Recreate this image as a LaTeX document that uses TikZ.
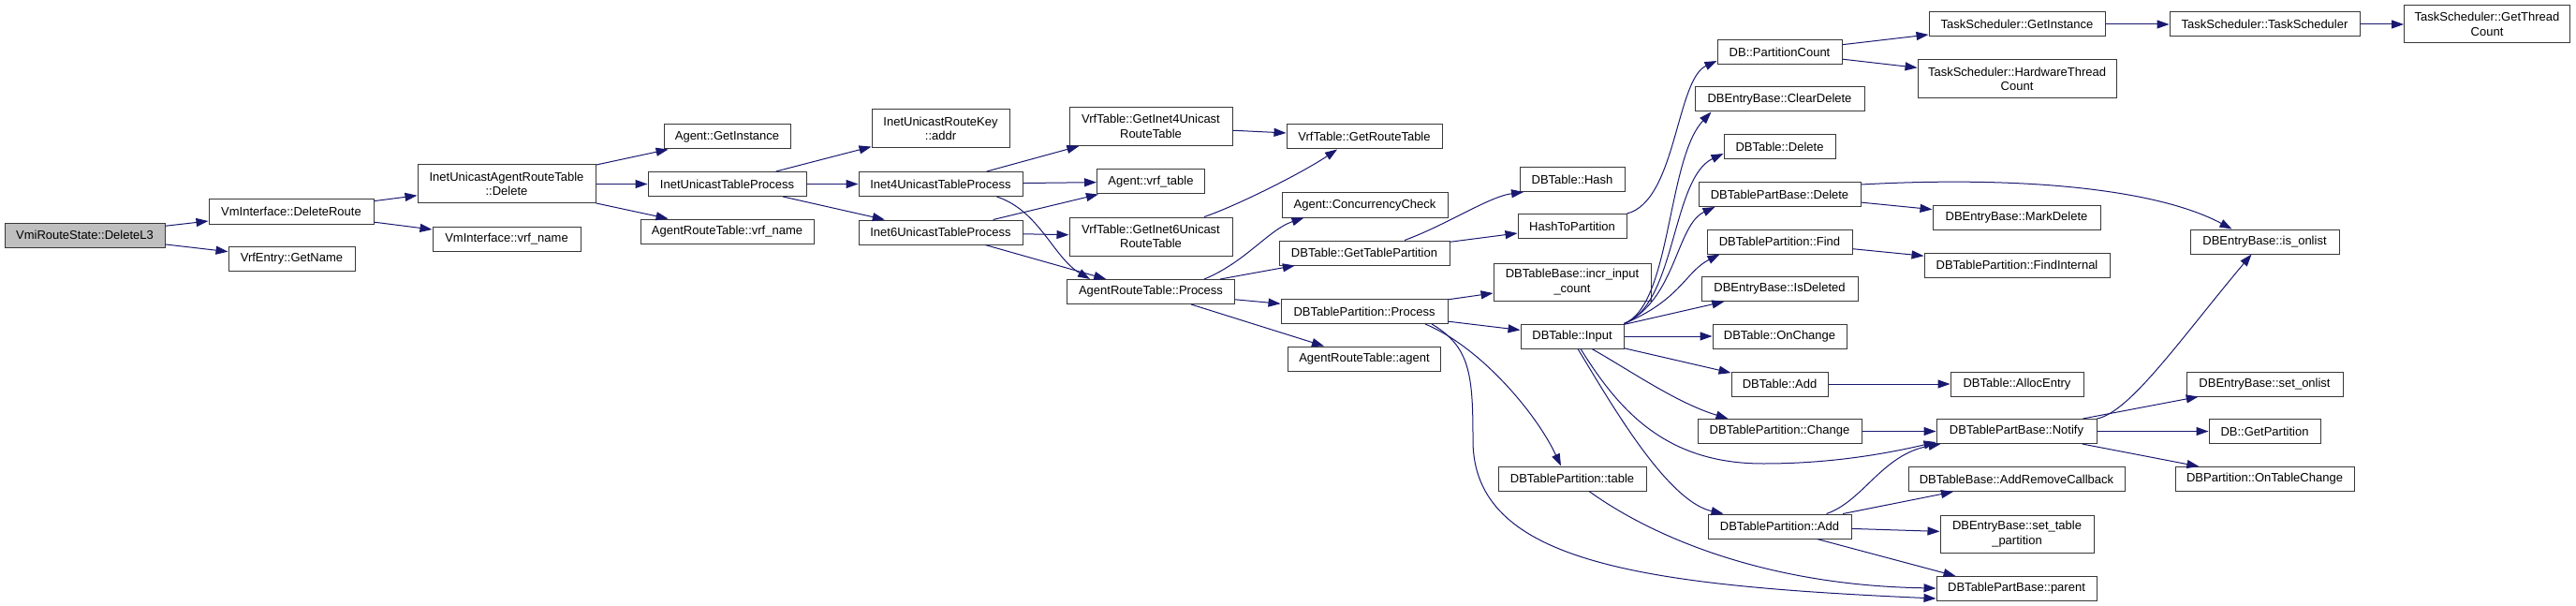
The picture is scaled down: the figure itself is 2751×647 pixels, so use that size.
\documentclass[tikz,border=0pt]{standalone}
\usepackage{fontspec}
\setmainfont{Liberation Sans}
\usetikzlibrary{arrows.meta}
\definecolor{edgeblue}{RGB}{25,25,112}
\definecolor{rootfill}{RGB}{191,191,191}
\definecolor{boxline}{RGB}{56,56,56}
\begin{document}
\begin{tikzpicture}[x=1pt,y=-1pt,
  fn/.style={draw=boxline, line width=1pt, fill=white, inner sep=0pt, align=center,
             font=\fontsize{13}{15.5}\selectfont},
  rootfn/.style={fn, fill=rootfill},
  edge/.style={draw=edgeblue, line width=1pt, -{Triangle[length=13pt,width=9pt]}},
]
\useasboundingbox (0,0) rectangle (2751,647);
% ---- nodes ----
\node[rootfn,minimum width=171pt,minimum height=26pt] (root) at (90.5,251) {VmiRouteState::DeleteL3};
\node[fn,minimum width=176pt,minimum height=26pt] (delroute) at (311,226) {VmInterface::DeleteRoute};
\node[fn,minimum width=135pt,minimum height=26pt] (getname) at (311.5,276.5) {VrfEntry::GetName};
\node[fn,minimum width=190pt,minimum height=41pt] (iuartdel) at (541,196.5) {InetUnicastAgentRouteTable\\::Delete};
\node[fn,minimum width=158pt,minimum height=26pt] (vmvrf) at (541,255) {VmInterface::vrf\_name};
\node[fn,minimum width=135pt,minimum height=26pt] (getinst) at (776.5,146) {Agent::GetInstance};
\node[fn,minimum width=169pt,minimum height=26pt] (iutp) at (776.5,196.5) {InetUnicastTableProcess};
\node[fn,minimum width=185pt,minimum height=26pt] (artvrf) at (776.5,247) {AgentRouteTable::vrf\_name};
\node[fn,minimum width=147pt,minimum height=41pt] (addr) at (1004.5,137.5) {InetUnicastRouteKey\\::addr};
\node[fn,minimum width=175pt,minimum height=26pt] (inet4) at (1004.5,196.5) {Inet4UnicastTableProcess};
\node[fn,minimum width=175pt,minimum height=26pt] (inet6) at (1004.5,248) {Inet6UnicastTableProcess};
\node[fn,minimum width=174pt,minimum height=41pt] (get4) at (1229,135) {VrfTable::GetInet4Unicast\\RouteTable};
\node[fn,minimum width=115pt,minimum height=26pt] (vrftab) at (1229,194) {Agent::vrf\_table};
\node[fn,minimum width=174pt,minimum height=41pt] (get6) at (1229,252.5) {VrfTable::GetInet6Unicast\\RouteTable};
\node[fn,minimum width=179pt,minimum height=26pt] (artproc) at (1229,311.5) {AgentRouteTable::Process};
\node[fn,minimum width=166pt,minimum height=26pt] (getrt) at (1457,146) {VrfTable::GetRouteTable};
\node[fn,minimum width=177pt,minimum height=26pt] (conc) at (1457.5,219) {Agent::ConcurrencyCheck};
\node[fn,minimum width=182pt,minimum height=26pt] (gtp) at (1457,270) {DBTable::GetTablePartition};
\node[fn,minimum width=178pt,minimum height=26pt] (dbtpproc) at (1457,332.5) {DBTablePartition::Process};
\node[fn,minimum width=163pt,minimum height=26pt] (artagent) at (1457,383) {AgentRouteTable::agent};
\node[fn,minimum width=112pt,minimum height=26pt] (hash) at (1679,191.5) {DBTable::Hash};
\node[fn,minimum width=116pt,minimum height=26pt] (h2p) at (1679,241.5) {HashToPartition};
\node[fn,minimum width=168pt,minimum height=40pt] (incr) at (1679,301) {DBTableBase::incr\_input\\\_count};
\node[fn,minimum width=110pt,minimum height=26pt] (input) at (1679,359) {DBTable::Input};
\node[fn,minimum width=158pt,minimum height=26pt] (dbtptable) at (1679,511) {DBTablePartition::table};
\node[fn,minimum width=133pt,minimum height=26pt] (pcount) at (1900.5,55.5) {DB::PartitionCount};
\node[fn,minimum width=181pt,minimum height=26pt] (clrdel) at (1900.5,106) {DBEntryBase::ClearDelete};
\node[fn,minimum width=119pt,minimum height=26pt] (dbtdel) at (1900.5,156.5) {DBTable::Delete};
\node[fn,minimum width=173pt,minimum height=26pt] (tpbdel) at (1900.5,207.5) {DBTablePartBase::Delete};
\node[fn,minimum width=155pt,minimum height=26pt] (find) at (1900.5,258) {DBTablePartition::Find};
\node[fn,minimum width=167pt,minimum height=26pt] (isdel) at (1900.5,308.5) {DBEntryBase::IsDeleted};
\node[fn,minimum width=143pt,minimum height=26pt] (onchg) at (1900.5,359) {DBTable::OnChange};
\node[fn,minimum width=103pt,minimum height=26pt] (dbtadd) at (1900.5,410) {DBTable::Add};
\node[fn,minimum width=175pt,minimum height=26pt] (change) at (1900.5,460.5) {DBTablePartition::Change};
\node[fn,minimum width=153pt,minimum height=26pt] (tpadd) at (1900.5,562) {DBTablePartition::Add};
\node[fn,minimum width=188pt,minimum height=26pt] (tsgi) at (2154,26) {TaskScheduler::GetInstance};
\node[fn,minimum width=212pt,minimum height=41pt] (tshw) at (2154,84.5) {TaskScheduler::HardwareThread\\Count};
\node[fn,minimum width=179pt,minimum height=26pt] (markdel) at (2153.5,232.5) {DBEntryBase::MarkDelete};
\node[fn,minimum width=198pt,minimum height=26pt] (findint) at (2154,283) {DBTablePartition::FindInternal};
\node[fn,minimum width=142pt,minimum height=26pt] (alloc) at (2154,410) {DBTable::AllocEntry};
\node[fn,minimum width=171pt,minimum height=26pt] (notify) at (2153.5,460.5) {DBTablePartBase::Notify};
\node[fn,minimum width=231pt,minimum height=26pt] (addrm) at (2153.5,511.5) {DBTableBase::AddRemoveCallback};
\node[fn,minimum width=164pt,minimum height=40pt] (settp) at (2154,570) {DBEntryBase::set\_table\\\_partition};
\node[fn,minimum width=171pt,minimum height=26pt] (parent) at (2153.5,628.5) {DBTablePartBase::parent};
\node[fn,minimum width=203pt,minimum height=26pt] (tsts) at (2418.5,26) {TaskScheduler::TaskScheduler};
\node[fn,minimum width=159pt,minimum height=26pt] (isonlist) at (2418.5,258) {DBEntryBase::is\_onlist};
\node[fn,minimum width=167pt,minimum height=26pt] (setonlist) at (2418.5,410) {DBEntryBase::set\_onlist};
\node[fn,minimum width=119pt,minimum height=26pt] (getpart) at (2418.5,460.5) {DB::GetPartition};
\node[fn,minimum width=191pt,minimum height=26pt] (ontc) at (2418.5,511.5) {DBPartition::OnTableChange};
\node[fn,minimum width=177pt,minimum height=40pt] (tsgtc) at (2656,26) {TaskScheduler::GetThread\\Count};
% ---- edges ----
\draw[edge] (root) -- (delroute);
\draw[edge] (root) -- (getname);
\draw[edge] (delroute) -- (iuartdel);
\draw[edge] (delroute) -- (vmvrf);
\draw[edge] (iuartdel) -- (getinst);
\draw[edge] (iuartdel) -- (iutp);
\draw[edge] (iuartdel) -- (artvrf);
\draw[edge] (iutp) -- (addr);
\draw[edge] (iutp) -- (inet4);
\draw[edge] (iutp) -- (inet6);
\draw[edge] (inet4) -- (get4);
\draw[edge] (inet4) -- (vrftab);
\draw[edge] ([xshift=60pt]inet4.south) .. controls (1110,225) and (1125,275) .. ([xshift=-65pt]artproc.north);
\draw[edge] (inet6) -- (vrftab);
\draw[edge] (inet6) -- (get6);
\draw[edge] (inet6) -- (artproc);
\draw[edge] (get4) -- (getrt);
\draw[edge] ([xshift=57pt]get6.north) .. controls (1320,220) and (1390,185) .. ([xshift=-29pt]getrt.south);
\draw[edge] ([xshift=57pt]artproc.north) .. controls (1330,280) and (1355,245) .. ([xshift=-65pt]conc.south);
\draw[edge] (artproc) -- (gtp);
\draw[edge] (artproc) -- (dbtpproc);
\draw[edge] (artproc) -- (artagent);
\draw[edge] ([xshift=43pt]gtp.north) .. controls (1545,240) and (1590,210) .. ([xshift=-52pt]hash.south);
\draw[edge] (gtp) -- (h2p);
\draw[edge] (h2p.north east) .. controls (1790,215) and (1790,85) .. ([yshift=4pt]pcount.south west);
\draw[edge] (pcount) -- (tsgi);
\draw[edge] (pcount) -- (tshw);
\draw[edge] (tsgi) -- (tsts);
\draw[edge] (tsts) -- (tsgtc);
\draw[edge] (dbtpproc) -- (incr);
\draw[edge] (dbtpproc) -- (input);
\draw[edge] ([xshift=65pt]dbtpproc.south) .. controls (1580,370) and (1640,440) .. ([xshift=-12pt]dbtptable.north);
\draw[edge] ([xshift=72pt]dbtpproc.south) .. controls (1570,370) and (1573,400) .. (1573,470) .. controls (1573,600) and (1750,625) .. ([yshift=3pt]parent.south west);
\draw[edge] (input.north east) .. controls (1785,325) and (1780,170) .. ([xshift=-73pt]clrdel.south);
\draw[edge] (input.north east) .. controls (1790,325) and (1785,190) .. ([yshift=6pt]dbtdel.south west);
\draw[edge] (input.north east) .. controls (1790,320) and (1790,240) .. ([xshift=-69pt]tpbdel.south);
\draw[edge] (input.north east) .. controls (1795,320) and (1800,290) .. ([xshift=-64pt]find.south);
\draw[edge] (input) -- (isdel);
\draw[edge] (input) -- (onchg);
\draw[edge] (input) -- (dbtadd);
\draw[edge] ([xshift=21pt]input.south) .. controls (1740,395) and (1790,430) .. ([xshift=-55pt]change.north);
\draw[edge] ([xshift=9pt]input.south) .. controls (1730,440) and (1780,495) .. (1883,495) .. controls (1960,495) and (2020,483) .. ([yshift=2pt]notify.south west);
\draw[edge] ([xshift=6pt]input.south) .. controls (1720,430) and (1780,535) .. ([xshift=-60pt]tpadd.north);
\draw[edge] (dbtadd) -- (alloc);
\draw[edge] (change) -- (notify);
\draw[edge] ([xshift=50pt]tpadd.north) .. controls (1990,535) and (2010,485) .. ([xshift=5pt]notify.south west);
\draw[edge] (tpadd) -- (addrm);
\draw[edge] (tpadd) -- (settp);
\draw[edge] ([xshift=40pt]tpadd.south) -- ([xshift=-65pt]parent.north);
\draw[edge] ([xshift=18pt]dbtptable.south) .. controls (1760,570) and (1880,625) .. ([yshift=14pt]parent.south west);
\draw[edge] (tpbdel) -- (markdel);
\draw[edge] ([yshift=-3pt]tpbdel.north east) .. controls (2150,188) and (2300,200) .. ([xshift=-35pt]isonlist.north);
\draw[edge] (find) -- (findint);
\draw[edge] (notify.north east) .. controls (2275,440) and (2330,360) .. ([xshift=-14pt]isonlist.south);
\draw[edge] (notify) -- (setonlist);
\draw[edge] (notify) -- (getpart);
\draw[edge] (notify) -- (ontc);
\end{tikzpicture}
\end{document}
